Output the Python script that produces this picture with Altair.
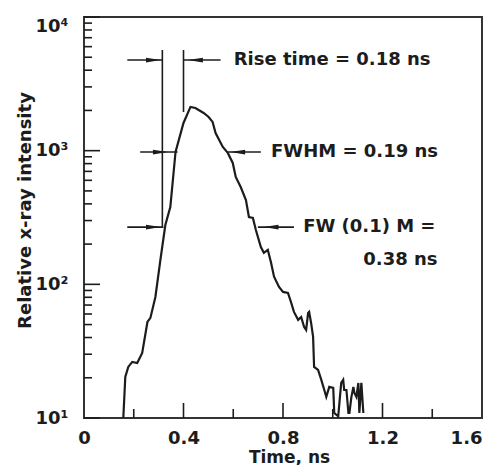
import altair as alt
import pandas as pd

# ---- pulse trace ----
time_ns = [0.158, 0.166, 0.178, 0.194, 0.214, 0.234, 0.255, 0.267, 0.287, 0.307,
           0.327, 0.347, 0.368, 0.400, 0.428, 0.448, 0.461, 0.481, 0.501, 0.517,
           0.529, 0.558, 0.578, 0.598, 0.610, 0.630, 0.651, 0.663, 0.679, 0.691,
           0.711, 0.723, 0.739, 0.752, 0.764, 0.784, 0.800, 0.820, 0.832, 0.844,
           0.861, 0.873, 0.885, 0.893, 0.901, 0.905, 0.913, 0.921, 0.925, 0.941,
           0.954, 0.966, 0.974, 0.986, 1.002, 1.006, 1.022, 1.034, 1.042, 1.046,
           1.055, 1.063, 1.067, 1.075, 1.083, 1.087, 1.095, 1.103, 1.107, 1.115,
           1.123]
intensity = [10, 20.3, 24.1, 26.3, 25.8, 30.7, 52.3, 56.1, 80.5, 152,
             278, 379, 977, 1611, 2124, 2085, 2013, 1915, 1787, 1641,
             1356, 1066, 962, 809, 636, 535, 427, 319, 314, 255,
             190, 172, 181, 145, 114, 95.7, 87.8, 86.2, 73.8, 62.2,
             54.2, 57.0, 48.0, 45.6, 61.1, 62.2, 51.4, 40.4, 24.1, 22.9,
             19.3, 16.2, 14.4, 17.1, 16.8, 10.9, 10.3, 18.3, 19.3, 16.2,
             16.2, 10.9, 10.9, 14.4, 17.1, 15.4, 14.4, 18.3, 10.9, 18.3,
             10.9]

# ---- annotation geometry (data coordinates) ----
hline_t1 = [0.174, 0.400, 0.226, 0.578, 0.174, 0.699]
hline_t2 = [0.315, 0.549, 0.376, 0.711, 0.319, 0.844]
hline_level = [4766, 4766, 977, 977, 268, 268]

vline_t = [0.315, 0.400]
vline_lo = [264, 1945]
vline_hi = [5663, 5663]

head_t = [0.279, 0.448, 0.307, 0.618, 0.279, 0.752]
head_level = [4766, 4766, 977, 977, 268, 268]
head_dir = ["right", "left", "right", "left", "right", "left"]

label_text = ["Rise time = 0.18 ns", "FWHM = 0.19 ns", "FW (0.1) M =", "0.38 ns"]
label_t = [0.602, 0.752, 0.881, 1.123]
label_level = [4766, 977, 268, 152]

# ---- axis ticks ----
y_major = [10, 100, 1000, 10000]
y_minor = [20, 30, 40, 50, 60, 70, 80, 90,
           200, 300, 400, 500, 600, 700, 800, 900,
           2000, 3000, 4000, 5000, 6000, 7000, 8000, 9000]
x_major_labels = [0, 0.4, 0.8, 1.2, 1.6]
x_major_ticks = [0.4, 0.8, 1.2]
x_minor_ticks = [0.2, 0.6, 1.0, 1.4]

W, H = 398, 401
INK = "#1c1c1c"
FONT = "DejaVu Sans"

xscale = alt.Scale(domain=[0, 1.6], nice=False, zero=False)
yscale = alt.Scale(type="log", domain=[10, 10000], nice=False)

xaxis = alt.Axis(values=x_major_labels, labelExpr="datum.value == 0 ? '0' : format(datum.value, '.1f')",
                 labelAlign={"condition": {"test": "datum.value >= 1.6", "value": "right"}, "value": "center"},
                 ticks=False, domain=False, grid=False, labelFlush=False, labelPadding=11,
                 titleX=205, titleY=44, titleBaseline="alphabetic", titleAlign="center", titleFontSize=17)
yaxis = alt.Axis(values=y_major,
                 labelExpr="datum.value == 10 ? '10¹' : datum.value == 100 ? '10²' : datum.value == 1000 ? '10³' : '10⁴'",
                 labelBaseline={"condition": {"test": "datum.value >= 10000", "value": "top"}, "value": "middle"},
                 ticks=False, domain=False, grid=False, labelFlush=False, labelPadding=16,
                 titleX=-59, titleY=193, titleAngle=-90, titleBaseline="middle", titleAlign="center")


def X(f):
    return alt.X(f"{f}:Q", scale=xscale, axis=xaxis, title="Time, ns")


def Y(f):
    return alt.Y(f"{f}:Q", scale=yscale, axis=yaxis, title="Relative x-ray intensity")


trace = pd.DataFrame({"t": time_ns, "v": intensity, "i": list(range(len(time_ns)))})
hl = pd.DataFrame({"t": hline_t1, "t2": hline_t2, "v": hline_level})
vl = pd.DataFrame({"t": vline_t, "v": vline_lo, "v2": vline_hi})
heads = pd.DataFrame({"t": head_t, "v": head_level, "dir": head_dir})
labels = pd.DataFrame({"t": label_t, "v": label_level, "txt": label_text})

line = alt.Chart(trace).mark_line(color=INK, strokeWidth=2.2, clip=True).encode(
    x=X("t"), y=Y("v"), order="i:Q")

hrules = alt.Chart(hl).mark_rule(color=INK, strokeWidth=1.6).encode(
    x=X("t"), x2="t2:Q", y=Y("v"))
vrules = alt.Chart(vl).mark_rule(color=INK, strokeWidth=1.6).encode(
    x=X("t"), y=Y("v"), y2="v2:Q")

arrow_heads = alt.Chart(heads).mark_point(filled=True, opacity=1, color=INK, size=220).encode(
    x=X("t"), y=Y("v"),
    shape=alt.Shape("dir:N", scale=alt.Scale(domain=["left", "right"],
                                             range=["M1,-0.32L-1,0L1,0.32Z", "M-1,-0.32L1,0L-1,0.32Z"]),
                    legend=None))

texts = alt.Chart(labels).mark_text(align="left", baseline="middle", font=FONT, fontWeight="bold",
                                    fontSize=18, color=INK).encode(
    x=X("t"), y=Y("v"), text="txt:N")

ymaj = alt.Chart(pd.DataFrame({"v": y_major})).mark_rule(color=INK, strokeWidth=1.6).encode(
    y=Y("v"), x=alt.value(0), x2=alt.value(16))
ymin = alt.Chart(pd.DataFrame({"v": y_minor})).mark_rule(color=INK, strokeWidth=1.6).encode(
    y=Y("v"), x=alt.value(0), x2=alt.value(8))
xmaj = alt.Chart(pd.DataFrame({"t": x_major_ticks})).mark_rule(color=INK, strokeWidth=1.6).encode(
    x=X("t"), y=alt.value(H), y2=alt.value(H - 15))
xmin = alt.Chart(pd.DataFrame({"t": x_minor_ticks})).mark_rule(color=INK, strokeWidth=1.6).encode(
    x=X("t"), y=alt.value(H), y2=alt.value(H - 9))

chart = alt.layer(ymin, ymaj, xmin, xmaj, hrules, vrules, arrow_heads, line, texts).properties(
    width=W, height=H,
    autosize=alt.AutoSizeParams(type="none"),
    padding={"left": 76, "top": 9, "right": 4, "bottom": 47},
).configure_view(stroke="#333333", strokeWidth=2).configure_axis(
    labelFont=FONT, labelFontWeight="bold", labelFontSize=18, labelColor=INK,
    titleFont=FONT, titleFontWeight="bold", titleFontSize=18, titleColor=INK,
)

chart.save("out.html", embed_options={"renderer": "svg", "actions": False})
